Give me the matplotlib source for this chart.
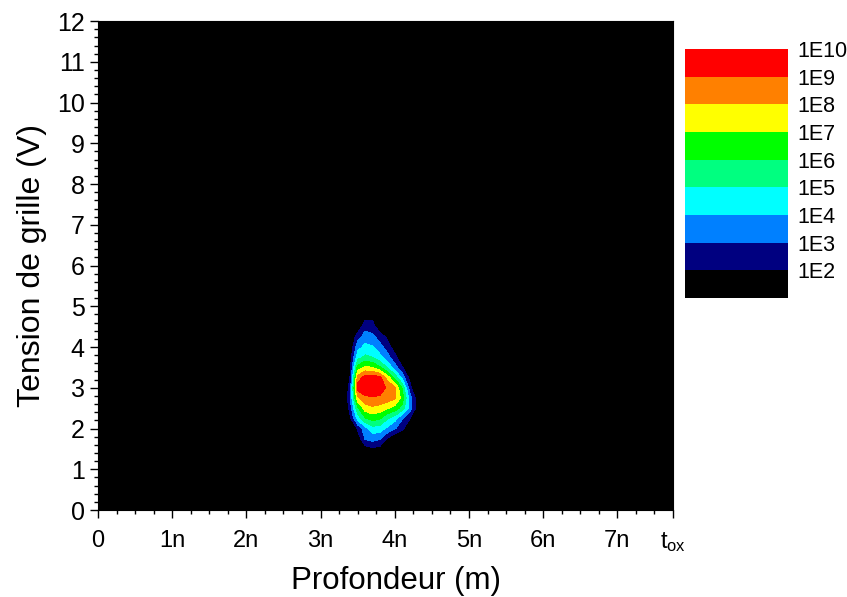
import numpy as np
import matplotlib
matplotlib.use("Agg")
import matplotlib.pyplot as plt
from matplotlib.colors import ListedColormap, BoundaryNorm
from matplotlib.ticker import MultipleLocator

plt.rcParams['font.family'] = ['Liberation Sans', 'DejaVu Sans']

# grille (x en nm, tension en V), valeurs en log10
profondeur_nm = [3.2, 3.3, 3.4, 3.5, 3.6, 3.7, 3.8, 3.9, 4.0, 4.1, 4.2, 4.3, 4.4, 4.5]
tension_v = [1.25, 1.5, 1.75, 2.0, 2.25, 2.5, 2.75, 3.0, 3.25, 3.5, 3.75, 4.0, 4.25, 4.5, 4.75, 5.0]
log_densite = [
    [0, 0, 0.0, 0.0, 0.0, 0.0, 0.0, 0.0, 0.0, 0.0, 0.0, 0.0, 0, 0],  # 1.25
    [0, 0, 0.0, 0.5, 1.5, 1.8, 1.6, 0.8, 0.0, 0.0, 0.0, 0.0, 0, 0],  # 1.5
    [0, 0, 0.0, 1.3, 3.1, 3.4, 3.1, 1.9, 1.0, 0.3, 0.0, 0.0, 0, 0],  # 1.75
    [0, 0, 0.3, 2.2, 3.6, 4.6, 4.5, 3.8, 3.1, 2.3, 0.9, 0.0, 0, 0],  # 2.0
    [0, 0, 1.8, 4.4, 5.9, 6.4, 6.1, 5.1, 4.4, 3.1, 2.1, 0.6, 0, 0],  # 2.25
    [0, 0.2, 2.5, 5.8, 7.5, 7.8, 7.6, 7.1, 6.6, 5.6, 3.6, 1.6, 0, 0],  # 2.5
    [0, 0.3, 3.0, 7.8, 8.7, 8.9, 8.8, 8.6, 8.2, 6.6, 3.6, 1.5, 0, 0],  # 2.75
    [0, 0.4, 2.6, 9.5, 9.9, 9.9, 9.6, 8.8, 8.2, 5.9, 2.5, 0.5, 0, 0],  # 3.0
    [0, 0.3, 2.1, 8.4, 9.5, 9.6, 9.3, 7.6, 5.7, 3.7, 1.7, 0.2, 0, 0],  # 3.25
    [0, 0.2, 1.8, 6.4, 7.2, 7.0, 6.1, 4.9, 3.5, 2.1, 0.8, 0.0, 0, 0],  # 3.5
    [0, 0, 1.5, 4.6, 5.2, 5.0, 4.3, 3.4, 2.3, 1.2, 0.2, 0.0, 0, 0],  # 3.75
    [0, 0, 1.2, 3.6, 4.3, 4.1, 3.4, 2.5, 1.5, 0.3, 0.0, 0.0, 0, 0],  # 4.0
    [0, 0, 0.8, 2.6, 3.4, 3.3, 2.5, 1.8, 0.5, 0.0, 0.0, 0.0, 0, 0],  # 4.25
    [0, 0, 0.0, 1.2, 2.7, 2.4, 1.3, 0.3, 0.0, 0.0, 0.0, 0.0, 0, 0],  # 4.5
    [0, 0, 0.0, 0.0, 1.6, 1.7, 0.3, 0.0, 0.0, 0.0, 0.0, 0.0, 0, 0],  # 4.75
    [0, 0, 0.0, 0.0, 0.0, 0.0, 0.0, 0.0, 0.0, 0.0, 0.0, 0.0, 0, 0],  # 5.0
]

niveaux = [-1, 2, 3, 4, 5, 6, 7, 8, 9, 10]
etiquettes = ["1E2", "1E3", "1E4", "1E5", "1E6", "1E7", "1E8", "1E9", "1E10"]
couleurs = ["#000000", "#000080", "#0080ff", "#00ffff", "#00ff80",
            "#00ff00", "#ffff00", "#ff8000", "#ff0000"]
tox_nm = 7.75

cmap = ListedColormap(couleurs)
norm = BoundaryNorm(niveaux, cmap.N)

fig = plt.figure(figsize=(8.47, 5.97), dpi=100)
ax = fig.add_axes([0.1157, 0.1457, 0.6789, 0.819])
ax.set_facecolor("black")

X, Y = np.meshgrid(np.array(profondeur_nm) * 1e-9, tension_v)
cs = ax.contourf(X, Y, np.array(log_densite), levels=niveaux, cmap=cmap, norm=norm)

ax.set_xlim(0, tox_nm * 1e-9)
ax.set_ylim(0, 12)

xt = [i * 1e-9 for i in range(8)] + [tox_nm * 1e-9]
ax.set_xticks(xt)
ax.set_xticklabels(["0"] + ["%dn" % i for i in range(1, 8)] + [r"$\mathregular{t_{ox}}$"])
ax.xaxis.set_minor_locator(MultipleLocator(0.25e-9))
ax.set_yticks(range(13))
ax.yaxis.set_minor_locator(MultipleLocator(0.2))
ax.tick_params(which="major", direction="out", length=6, width=1,
               top=False, right=False)
ax.tick_params(which="minor", direction="out", length=3, width=1, top=False, right=False)
ax.tick_params(axis="x", labelsize=17, pad=8.5)
ax.tick_params(axis="y", labelsize=18)
ax.set_xlabel("Profondeur (m)", fontsize=22.5)
ax.xaxis.set_label_coords(0.519, -0.115)
ax.set_ylabel("Tension de grille (V)", fontsize=23, labelpad=7)

cax = fig.add_axes([0.8087, 0.5008, 0.1216, 0.417])
cb = fig.colorbar(cs, cax=cax, spacing="uniform")
cb.outline.set_visible(False)
cb.set_ticks(niveaux[1:])
cb.set_ticklabels(etiquettes)
cax.minorticks_off()
cax.tick_params(length=0, labelsize=15.5, pad=7)

fig.savefig("out.png", dpi=100)
